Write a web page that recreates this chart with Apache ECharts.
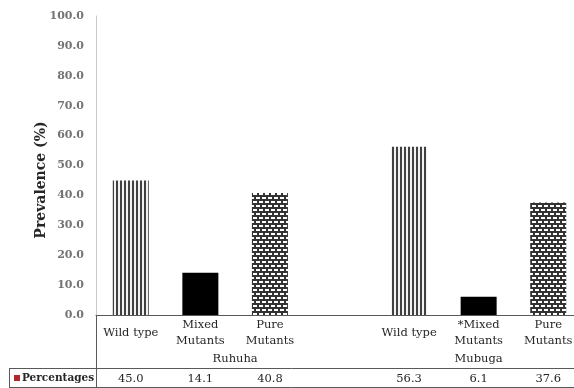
<!DOCTYPE html>
<html><head><meta charset="utf-8">
<script src="https://cdn.jsdelivr.net/npm/echarts@6/dist/echarts.min.js"></script>
<style>html,body{margin:0;padding:0;background:#fff}#c{width:574px;height:388px}</style>
</head><body><div id="c"></div>
<script>
// ---- data ----
const categories = ['Wild type', 'Mixed\nMutants', 'Pure\nMutants', '', 'Wild type', '*Mixed\nMutants', 'Pure\nMutants'];
const mutationType = ['wild', 'mixed', 'pure', '', 'wild', 'mixed', 'pure'];
const percentages = [45.0, 14.1, 40.8, null, 56.3, 6.1, 37.6];
const groupLabels = ['Ruhuha', 'Mubuga'];
const groupCenters = [1.5, 5];
const yTicks = [0, 10, 20, 30, 40, 50, 60, 70, 80, 90, 100];
const seriesName = 'Percentages';
const yAxisTitle = 'Prevalence (%)';

// ---- patterns ----
function makeStripe() {
  const c = document.createElement('canvas'); c.width = 4; c.height = 4;
  const g = c.getContext('2d');
  g.fillStyle = '#f2f2f2'; g.fillRect(0, 0, 4, 4);
  g.fillStyle = '#404040'; g.fillRect(0, 0, 2, 4);
  return c;
}
function makeBrick() {
  const c = document.createElement('canvas'); c.width = 6; c.height = 8;
  const g = c.getContext('2d');
  g.fillStyle = '#333333'; g.fillRect(0, 0, 6, 8);
  g.fillStyle = '#ffffff';
  g.fillRect(1, 1, 4, 2);
  g.fillRect(4, 5, 2, 2); g.fillRect(0, 5, 2, 2);
  return c;
}
const fills = {
  wild: { image: makeStripe(), repeat: 'repeat' },
  mixed: '#000000',
  pure: { image: makeBrick(), repeat: 'repeat' }
};

const FONT = 'DejaVu Serif';
const TXT = '#262626';
const chart = echarts.init(document.getElementById('c'), null, { renderer: 'canvas' });
chart.setOption({
  animation: false,
  backgroundColor: '#ffffff',
  grid: { left: 96, width: 487, top: 16, bottom: 73, containLabel: false, outerBoundsMode: 'none' },
  xAxis: [
    {
      type: 'category', data: categories, position: 'bottom',
      axisLine: { lineStyle: { color: '#595959', width: 1 } },
      axisTick: { show: false },
      axisLabel: { interval: 0, margin: 18, verticalAlign: 'middle', lineHeight: 16,
        fontFamily: FONT, fontSize: 11.5, color: TXT }
    },
    {
      type: 'value', min: -0.5, max: 6.5, interval: 0.5, position: 'bottom',
      axisLine: { show: false, onZero: false }, axisTick: { show: false }, splitLine: { show: false },
      axisLabel: { margin: 44, verticalAlign: 'middle', fontFamily: FONT, fontSize: 11.5, color: TXT,
        formatter: v => { const i = groupCenters.findIndex(p => Math.abs(p - v) < 1e-6); return i >= 0 ? groupLabels[i] : ''; } }
    },
    {
      type: 'category', data: categories, position: 'bottom',
      axisLine: { show: false }, axisTick: { show: false },
      axisLabel: { interval: 0, margin: 64, verticalAlign: 'middle', fontFamily: FONT, fontSize: 11.5, color: TXT,
        formatter: (v, i) => percentages[i] == null ? '' : percentages[i].toFixed(1) }
    }
  ],
  yAxis: {
    type: 'value', min: yTicks[0], max: yTicks[yTicks.length - 1], interval: yTicks[1] - yTicks[0],
    axisLine: { show: true, onZero: false, lineStyle: { color: '#c8c8c8' } },
    axisTick: { show: false }, splitLine: { show: false },
    axisLabel: { margin: 12, fontFamily: FONT, fontSize: 11, fontWeight: 'bold', color: '#737373',
      formatter: v => v.toFixed(1) }
  },
  series: [{
    name: seriesName, type: 'bar', xAxisIndex: 0, barWidth: 36,
    data: percentages.map((v, i) => ({ value: v, itemStyle: { color: fills[mutationType[i]] || '#000' } }))
  }],
  graphic: [
    { type: 'line', shape: { x1: 96.5, y1: 315, x2: 96.5, y2: 388 }, style: { stroke: '#595959', lineWidth: 1 } },
    { type: 'line', shape: { x1: 9, y1: 368.5, x2: 574, y2: 368.5 }, style: { stroke: '#595959', lineWidth: 1 } },
    { type: 'line', shape: { x1: 9, y1: 387.5, x2: 574, y2: 387.5 }, style: { stroke: '#595959', lineWidth: 1 } },
    { type: 'line', shape: { x1: 9.5, y1: 368, x2: 9.5, y2: 388 }, style: { stroke: '#595959', lineWidth: 1 } },
    { type: 'rect', shape: { x: 14, y: 375, width: 6, height: 6 }, style: { fill: '#b0282c' } },
    { type: 'text', x: 22, y: 378.5, style: { text: seriesName, fontFamily: FONT, fontSize: 10.5, fontWeight: 'bold',
        fill: TXT, textAlign: 'left', textVerticalAlign: 'middle' } },
    { type: 'text', x: 41, y: 180, rotation: Math.PI / 2, style: { text: yAxisTitle, fontFamily: FONT, fontSize: 14,
        fontWeight: 'bold', fill: TXT, textAlign: 'center', textVerticalAlign: 'middle' } }
  ]
});
</script>
</body></html>
